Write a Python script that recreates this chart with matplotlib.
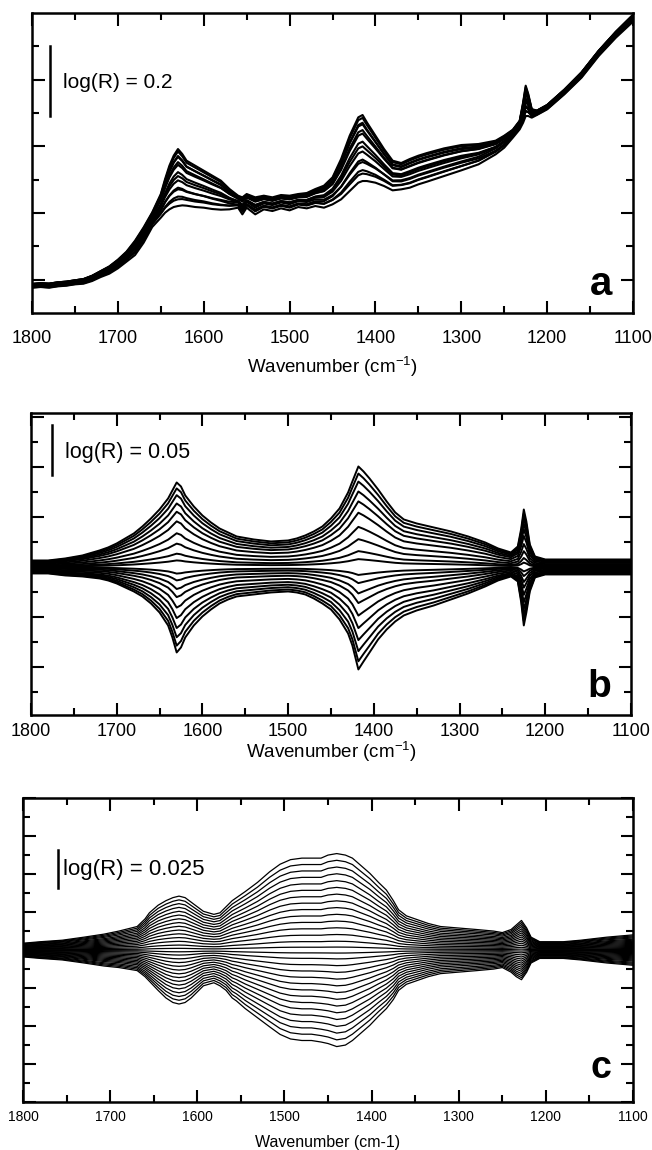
import numpy as np
import matplotlib.pyplot as plt
from matplotlib.ticker import MultipleLocator

plt.rcParams['font.family'] = ['Liberation Sans', 'DejaVu Sans']
plt.rcParams['mathtext.default'] = 'regular'

# ---- panel a: reflectance spectra (lowest / highest curve)
wn_a = [1800, 1790, 1780, 1770, 1760, 1750, 1740, 1730, 1720, 1710, 1700, 1690,
        1680, 1670, 1660, 1650, 1645, 1640, 1635, 1630, 1625, 1620, 1610, 1600,
        1590, 1580, 1570, 1560, 1555, 1550, 1545, 1540, 1530, 1520, 1510, 1500,
        1490, 1480, 1470, 1460, 1450, 1440, 1430, 1420, 1415, 1410, 1400, 1390,
        1380, 1370, 1360, 1350, 1340, 1320, 1300, 1280, 1260, 1250, 1240, 1232,
        1228, 1225, 1222, 1218, 1212, 1200, 1180, 1160, 1140, 1120, 1100]
a_low = [0.080, 0.082, 0.080, 0.084, 0.086, 0.090, 0.092, 0.100, 0.112, 0.122, 0.138, 0.158,
         0.178, 0.215, 0.262, 0.290, 0.305, 0.315, 0.322, 0.325, 0.327, 0.326, 0.322, 0.320,
         0.316, 0.314, 0.315, 0.320, 0.300, 0.320, 0.310, 0.300, 0.315, 0.310, 0.318, 0.312,
         0.322, 0.318, 0.325, 0.320, 0.330, 0.345, 0.370, 0.395, 0.400, 0.400, 0.395, 0.385,
         0.372, 0.375, 0.380, 0.390, 0.398, 0.415, 0.432, 0.450, 0.480, 0.500, 0.530, 0.555,
         0.575, 0.595, 0.595, 0.590, 0.598, 0.615, 0.660, 0.710, 0.775, 0.830, 0.878]
a_high = [0.085, 0.087, 0.086, 0.090, 0.092, 0.096, 0.100, 0.110, 0.124, 0.138, 0.158, 0.182,
          0.215, 0.255, 0.300, 0.355, 0.400, 0.440, 0.470, 0.490, 0.475, 0.455, 0.440, 0.425,
          0.410, 0.395, 0.370, 0.350, 0.345, 0.355, 0.350, 0.345, 0.350, 0.345, 0.352, 0.350,
          0.355, 0.358, 0.370, 0.380, 0.405, 0.460, 0.530, 0.585, 0.592, 0.570, 0.530, 0.490,
          0.455, 0.448, 0.460, 0.470, 0.478, 0.492, 0.502, 0.505, 0.515, 0.530, 0.548, 0.575,
          0.630, 0.680, 0.655, 0.610, 0.605, 0.622, 0.668, 0.720, 0.785, 0.842, 0.893]
a_levels = [0.0, 0.08, 0.16, 0.25, 0.34, 0.43, 0.52, 0.61, 0.70, 0.78, 0.85, 0.91, 0.96, 1.0]
a_shift = [-0.004, 0.003, -0.002, 0.005, -0.005, 0.002, 0.000, -0.003, 0.004, -0.001, 0.003,
           -0.004, 0.001, 0.002]

# ---- panel b: difference spectra, upper / lower envelope of the signal
wn_b = [1800, 1780, 1760, 1740, 1720, 1710, 1700, 1690, 1680, 1670, 1660, 1650, 1640,
        1635, 1630, 1625, 1620, 1610, 1600, 1590, 1580, 1570, 1560, 1540, 1520, 1500,
        1490, 1480, 1470, 1460, 1450, 1440, 1430, 1425, 1418, 1412, 1405, 1395, 1385,
        1375, 1365, 1350, 1330, 1310, 1290, 1270, 1255, 1240, 1232, 1228, 1225, 1222,
        1218, 1212, 1200, 1150, 1100]
b_up = [0.000, 0.000, 0.002, 0.005, 0.010, 0.013, 0.017, 0.022, 0.027, 0.034, 0.042, 0.051, 0.062,
        0.070, 0.078, 0.074, 0.065, 0.054, 0.045, 0.038, 0.032, 0.028, 0.024, 0.021, 0.019, 0.020,
        0.022, 0.025, 0.029, 0.034, 0.042, 0.052, 0.068, 0.079, 0.094, 0.089, 0.082, 0.071, 0.059,
        0.048, 0.041, 0.037, 0.033, 0.029, 0.024, 0.018, 0.012, 0.008, 0.014, 0.032, 0.051, 0.039,
        0.016, 0.004, 0.001, 0.001, 0.001]
b_dn = [0.000, 0.000, -0.002, -0.003, -0.005, -0.007, -0.010, -0.014, -0.018, -0.023, -0.030,
        -0.039, -0.052, -0.064, -0.079, -0.074, -0.064, -0.052, -0.043, -0.036, -0.030, -0.026,
        -0.023, -0.021, -0.019, -0.018, -0.019, -0.021, -0.025, -0.030, -0.036, -0.046, -0.060,
        -0.072, -0.096, -0.088, -0.079, -0.066, -0.056, -0.048, -0.042, -0.037, -0.032, -0.026,
        -0.020, -0.013, -0.007, -0.003, -0.008, -0.029, -0.052, -0.039, -0.018, -0.004, -0.001,
        -0.001, -0.001]
b_levels = [1.0, 0.93, 0.85, 0.75, 0.65, 0.54, 0.40, 0.28, 0.16, 0.08,
            -0.08, -0.16, -0.26, -0.35, -0.47, -0.59, -0.71, -0.82, -0.92, -1.0]
b_shift = [0.0065, 0.006, 0.0055, 0.005, 0.0045, 0.0035, 0.0025, 0.0015, 0.0008, 0.0003,
           -0.0003, -0.0008, -0.0015, -0.0025, -0.0035, -0.0045, -0.005, -0.0055, -0.006, -0.0065]

# ---- panel c
wn_c = [1800, 1780, 1755, 1730, 1707, 1690, 1669, 1660, 1655, 1645, 1636, 1628, 1621,
        1614, 1607, 1600, 1593, 1581, 1574, 1567, 1560, 1555, 1545, 1531, 1517, 1505,
        1493, 1480, 1469, 1458, 1450, 1440, 1430, 1422, 1412, 1402, 1392, 1383, 1375,
        1369, 1360, 1350, 1335, 1321, 1300, 1279, 1260, 1250, 1240, 1234, 1228, 1222,
        1217, 1207, 1180, 1160, 1130, 1100]
c_up = [0.000, 0.001, 0.002, 0.004, 0.006, 0.008, 0.011, 0.016, 0.020, 0.025, 0.028, 0.030, 0.031,
        0.030, 0.027, 0.024, 0.021, 0.019, 0.020, 0.024, 0.028, 0.030, 0.034, 0.040, 0.047, 0.052,
        0.055, 0.056, 0.056, 0.056, 0.058, 0.059, 0.058, 0.056, 0.051, 0.046, 0.040, 0.035, 0.028,
        0.022, 0.018, 0.016, 0.013, 0.011, 0.010, 0.009, 0.008, 0.007, 0.009, 0.012, 0.015, 0.010,
        0.004, 0.001, 0.001, 0.002, 0.004, 0.0055]
c_dn = [0.000, -0.001, -0.002, -0.004, -0.006, -0.007, -0.009, -0.013, -0.016, -0.022, -0.027,
        -0.030, -0.031, -0.030, -0.027, -0.023, -0.019, -0.017, -0.019, -0.022, -0.027, -0.029,
        -0.034, -0.040, -0.046, -0.051, -0.054, -0.055, -0.055, -0.056, -0.057, -0.059, -0.058,
        -0.055, -0.050, -0.045, -0.039, -0.034, -0.028, -0.022, -0.018, -0.016, -0.013, -0.011,
        -0.010, -0.009, -0.008, -0.007, -0.010, -0.013, -0.015, -0.010, -0.004, -0.001, -0.001,
        -0.002, -0.004, -0.0055]
c_levels = [1.0, 0.93, 0.86, 0.79, 0.72, 0.65, 0.58, 0.51, 0.44, 0.37, 0.30, 0.23, 0.16, 0.09, 0.03,
            -0.03, -0.09, -0.16, -0.23, -0.30, -0.37, -0.44, -0.51, -0.58, -0.65, -0.72, -0.79,
            -0.86, -0.93, -1.0]
c_shift = [0.0045, 0.0042, 0.0039, 0.0036, 0.0032, 0.0029, 0.0026, 0.0023, 0.002, 0.0017,
           0.0014, 0.0011, 0.0008, 0.0005, 0.0002, -0.0002, -0.0005, -0.0008, -0.0011, -0.0014,
           -0.0017, -0.002, -0.0023, -0.0026, -0.0029, -0.0032, -0.0036, -0.0039, -0.0042, -0.0045]

tick_labels = ['1800', '1700', '1600', '1500', '1400', '1300', '1200', '1100']
tick_vals = [1800, 1700, 1600, 1500, 1400, 1300, 1200, 1100]


def style_axes(ax, ymaj, ymin, fs):
    ax.set_xlim(1800, 1100)
    ax.set_xticks(tick_vals)
    ax.set_xticklabels(tick_labels)
    ax.xaxis.set_minor_locator(MultipleLocator(50))
    ax.yaxis.set_major_locator(MultipleLocator(ymaj))
    ax.yaxis.set_minor_locator(MultipleLocator(ymin))
    ax.tick_params(which='both', direction='in', top=True, right=True, width=1.5,
                   labelleft=False, labelsize=fs)
    ax.tick_params(which='major', length=9)
    ax.tick_params(which='minor', length=5)
    for s in ax.spines.values():
        s.set_linewidth(1.8)


fig = plt.figure(figsize=(6.52, 11.5), dpi=100)

# panel a
ax = fig.add_axes([0.0491, 0.7278, 0.9218, 0.2609])
lo = np.array(a_low)
hi = np.array(a_high)
for lev, sh in zip(a_levels, a_shift):
    ax.plot(wn_a, lo + lev * (hi - lo) + sh, color='black', lw=1.5)
ax.set_ylim(0, 0.9)
style_axes(ax, 0.2, 0.1, 13)
ax.set_yticks([0.1, 0.3, 0.5, 0.7])
ax.set_yticks([0.2, 0.4, 0.6, 0.8], minor=True)
ax.tick_params(axis='x', pad=12)
ax.plot([1779, 1779], [0.59, 0.80], color='black', lw=1.8)
ax.text(1764, 0.693, 'log(R) = 0.2', fontsize=15, va='center')
ax.text(0.947, 0.06, 'a', transform=ax.transAxes, fontsize=29, fontweight='bold',
        ha='center', va='baseline')
ax.set_xlabel('Wavenumber (cm$^{-1}$)', fontsize=13.5, labelpad=6)

# panel b
ax = fig.add_axes([0.0475, 0.3783, 0.9202, 0.2626])
up = np.array(b_up)
dn = np.array(b_dn)
for lev, sh in zip(b_levels, b_shift):
    y = (lev * up if lev >= 0 else -lev * dn) + sh
    ax.plot(wn_b, y, color='black', lw=1.4)
ax.set_ylim(-0.148, 0.154)
style_axes(ax, 0.05, 0.025, 13)
ax.tick_params(axis='x', pad=6)
ax.plot([1775.5, 1775.5], [0.092, 0.142], color='black', lw=1.8)
ax.text(1760, 0.114, 'log(R) = 0.05', fontsize=15.5, va='center')
ax.text(0.948, 0.06, 'b', transform=ax.transAxes, fontsize=28, fontweight='bold',
        ha='center', va='baseline')
ax.set_xlabel('Wavenumber (cm$^{-1}$)', fontsize=13.5, labelpad=0)

# panel c
ax = fig.add_axes([0.0353, 0.0417, 0.9356, 0.2643])
up = np.array(c_up)
dn = np.array(c_dn)
for lev, sh in zip(c_levels, c_shift):
    y = (lev * up if lev >= 0 else -lev * dn) + sh
    ax.plot(wn_c, y, color='black', lw=0.9)
ax.set_ylim(-0.1, 0.1)
style_axes(ax, 0.025, 0.0125, 10)
ax.tick_params(axis='x', pad=6)
ax.plot([1760, 1760], [0.041, 0.066], color='black', lw=1.8)
ax.text(1754, 0.053, 'log(R) = 0.025', fontsize=16, va='center')
ax.text(0.948, 0.079, 'c', transform=ax.transAxes, fontsize=27, fontweight='bold',
        ha='center', va='baseline')
ax.set_xlabel('Wavenumber (cm-1)', fontsize=11.5, labelpad=8)

fig.savefig('out.png', dpi=100)
